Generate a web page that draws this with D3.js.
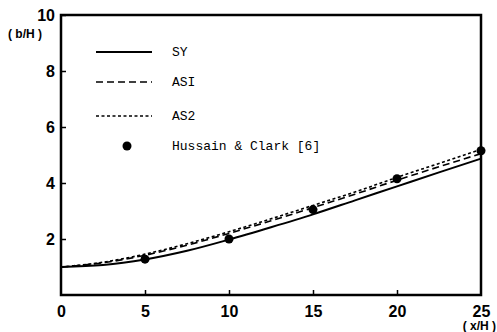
<!DOCTYPE html>
<html>
<head>
<meta charset="utf-8">
<script src="https://cdn.jsdelivr.net/npm/d3@7"></script>
<style>
  body { margin: 0; background: #fff; }
  svg { display: block; }
</style>
</head>
<body>
<div id="chart"></div>
<script>
// --- Data ---
const xValues = [0, 2.5, 5, 7.5, 10, 12.5, 15, 17.5, 20, 22.5, 25];
const sy  = [1.0, 1.07, 1.27, 1.58, 1.98, 2.42, 2.88, 3.38, 3.88, 4.38, 4.87];
const as1 = [1.0, 1.15, 1.42, 1.78, 2.2, 2.65, 3.12, 3.6, 4.1, 4.58, 5.05];
const as2 = [1.0, 1.17, 1.46, 1.83, 2.26, 2.72, 3.2, 3.68, 4.2, 4.7, 5.2];
const hussainX = [5, 10, 15, 20, 25];
const hussainY = [1.28, 2.0, 3.05, 4.15, 5.15];
const xTicks = [0, 5, 10, 15, 20, 25];
const yTicks = [2, 4, 6, 8, 10];
const legendNames = ["SY", "ASI", "AS2", "Hussain & Clark [6]"];

const width = 497, height = 332;
const margin = { top: 15, right: 16, bottom: 37, left: 61 };

const svg = d3.select("#chart").append("svg")
    .attr("width", width)
    .attr("height", height);

const x = d3.scaleLinear().domain([0, 25]).range([margin.left, width - margin.right]);
const y = d3.scaleLinear().domain([0, 10]).range([height - margin.bottom, margin.top]);

// frame (left, top, right, bottom)
svg.append("rect")
    .attr("x", x(0)).attr("y", y(10))
    .attr("width", x(25) - x(0)).attr("height", y(0) - y(10))
    .attr("fill", "none").attr("stroke", "#000").attr("stroke-width", 2.5);

// y axis: ticks pointing inward, bold labels
const yAxis = svg.append("g")
    .attr("transform", `translate(${x(0)},0)`)
    .call(d3.axisRight(y).tickValues(yTicks).tickSize(5).tickFormat(d3.format("d")));
yAxis.select(".domain").remove();
yAxis.selectAll("line").attr("stroke-width", 1.5);
yAxis.selectAll("text")
    .attr("x", -6).attr("text-anchor", "end")
    .style("font-family", "Liberation Sans, Arial, sans-serif")
    .style("font-weight", "bold").style("font-size", "16px");

// x axis: ticks pointing up, labels below
const xAxis = svg.append("g")
    .attr("transform", `translate(0,${y(0)})`)
    .call(d3.axisTop(x).tickValues(xTicks).tickSize(5).tickFormat(d3.format("d")));
xAxis.select(".domain").remove();
xAxis.selectAll("line").attr("stroke-width", 1.5);
xAxis.selectAll("line").filter(d => d === 0 || d === 25).remove();
xAxis.selectAll("text")
    .attr("y", 22)
    .style("font-family", "Liberation Sans, Arial, sans-serif")
    .style("font-weight", "bold").style("font-size", "16px");

// axis titles
svg.append("text")
    .attr("x", 25).attr("y", 38).attr("text-anchor", "middle")
    .style("font-family", "Liberation Sans, Arial, sans-serif")
    .style("font-weight", "bold").style("font-size", "12px")
    .text("( b/H )");
svg.append("text")
    .attr("x", 496).attr("y", 330).attr("text-anchor", "end")
    .style("font-family", "Liberation Sans, Arial, sans-serif")
    .style("font-weight", "bold").style("font-size", "12px")
    .text("( x/H )");

// curves
const series = [
    { values: sy,  dash: null,  width: 2 },
    { values: as1, dash: "7,4", width: 1.6 },
    { values: as2, dash: "3,2.5", width: 1.6 }
];
const line = d3.line()
    .x((d, i) => x(xValues[i]))
    .y(d => y(d))
    .curve(d3.curveMonotoneX);

series.forEach(s => {
    svg.append("path")
        .datum(s.values)
        .attr("fill", "none")
        .attr("stroke", "#000")
        .attr("stroke-width", s.width)
        .attr("stroke-dasharray", s.dash)
        .attr("d", line);
});

// experimental points
svg.selectAll(".dot")
    .data(hussainX)
    .enter().append("circle")
    .attr("class", "dot")
    .attr("cx", d => x(d))
    .attr("cy", (d, i) => y(hussainY[i]))
    .attr("r", 4.5)
    .attr("fill", "#000");

// legend
const legendY = [52, 82, 116, 146];
const legend = svg.append("g");
series.forEach((s, i) => {
    legend.append("line")
        .attr("x1", 96).attr("x2", 152)
        .attr("y1", legendY[i]).attr("y2", legendY[i])
        .attr("stroke", "#000")
        .attr("stroke-width", s.width)
        .attr("stroke-dasharray", s.dash);
});
legend.append("circle")
    .attr("cx", 127).attr("cy", legendY[3]).attr("r", 4.5).attr("fill", "#000");
legendNames.forEach((name, i) => {
    legend.append("text")
        .attr("x", 172).attr("y", legendY[i] + 4)
        .style("font-family", "Liberation Mono, DejaVu Sans Mono, monospace")
        .style("font-size", "13px")
        .text(name);
});
</script>
</body>
</html>
